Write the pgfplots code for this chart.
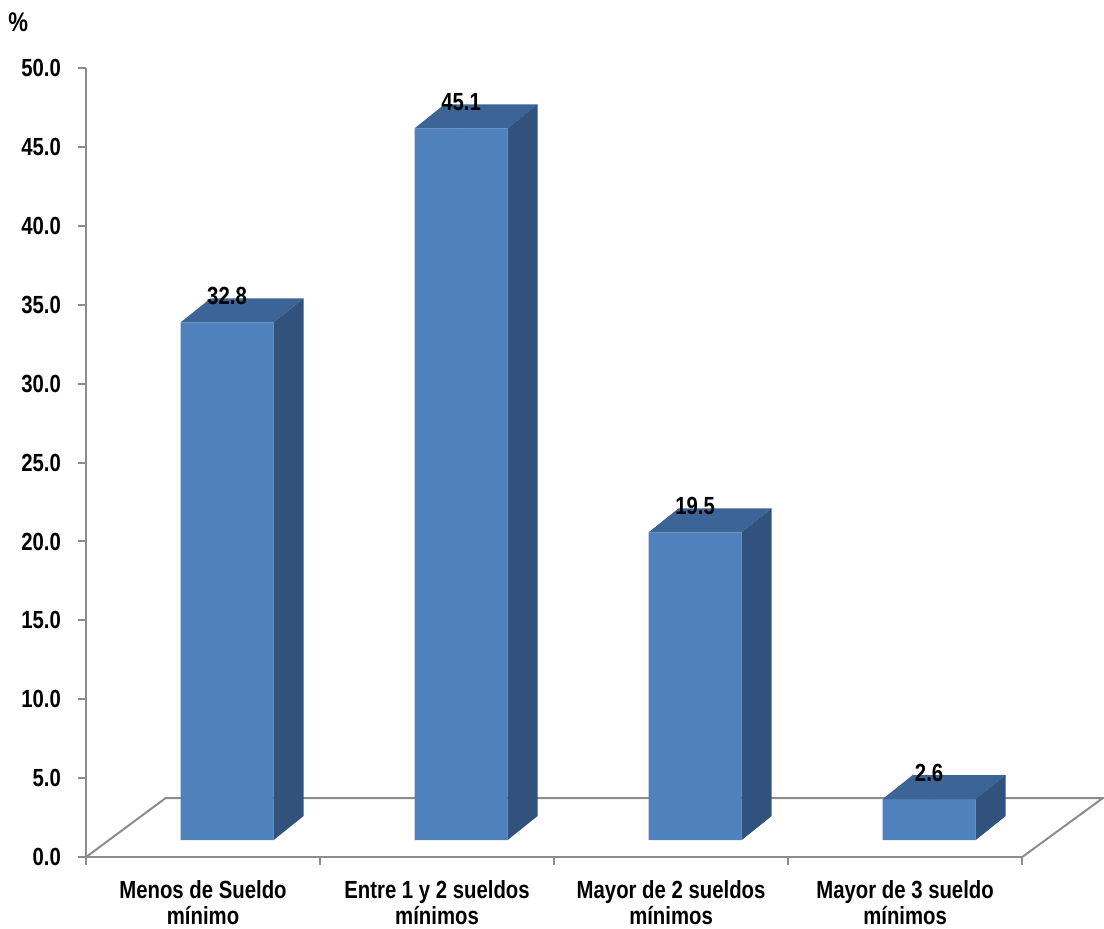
\documentclass[border=0pt]{standalone}
\usepackage{pgfplots}
\usepackage{pgfplotstable}
\pgfplotsset{compat=1.18}
\usepackage{fontspec}
\setmainfont{Liberation Sans}[FakeStretch=0.82]
\definecolor{frontcol}{HTML}{4F81BD}
\definecolor{topcol}{HTML}{3C6496}
\definecolor{sidecol}{HTML}{30527C}
\definecolor{axgray}{HTML}{8C8C8C}
\pgfplotstableread{
x v
0.5 32.8
1.5 45.1
2.5 19.5
3.5 2.6
}\datatable
\newcommand{\lblfont}{\fontsize{12.4}{13}\selectfont\bfseries}
\begin{document}
\begin{tikzpicture}
\begin{axis}[
  name=main, at={(0,0)}, anchor=origin,
  x=117pt, y=7.89pt, xmin=0, xmax=4, ymin=0, ymax=50,
  enlargelimits=false, clip=false,
  axis lines*=left,
  axis line style={draw=axgray, line width=1pt},
  ytick={0,5,...,50},
  xtick={0,1,2,3,4},
  xticklabels={{Menos de Sueldo\\mínimo},{Entre 1 y 2 sueldos\\mínimos},{Mayor de 2 sueldos\\mínimos},{Mayor de 3 sueldo\\mínimos},{}},
  xticklabel style={xshift=58.5pt, align=center, font=\lblfont, yshift=-4pt},
  yticklabel style={font=\lblfont, xshift=-5pt},
  tick style={draw=axgray, line width=1pt},
  tick align=outside, tick pos=left,
  major tick length=4pt,
  /pgf/number format/.cd, fixed, fixed zerofill, precision=1, assume math mode=true,
]
\draw[axgray, line width=1pt] (axis cs:0,0) -- (axis cs:0.34,3.74) -- (axis cs:4.345,3.74) -- (axis cs:4,0);
\node[font=\fontsize{13.5}{14}\selectfont\bfseries] at (axis cs:-0.29,52.9) {\%};
\coordinate (bbsw) at (axis cs:-0.3675,-4.5);
\coordinate (bbne) at (axis cs:4.35,54.31);
\end{axis}
\begin{axis}[
  at={(12pt,8.5pt)}, anchor=origin,
  x=117pt, y=7.89pt, xmin=0, xmax=4, ymin=0, ymax=50,
  enlargelimits=false, clip=false, hide axis,
  /pgf/number format/.cd, fixed, fixed zerofill, precision=1, assume math mode=true,
]
\addplot[ybar, bar width=46.5pt, fill=frontcol, draw=none] table[x=x, y=v] {\datatable};
\addplot[scatter, only marks, mark=*, mark size=0pt,
  visualization depends on={\thisrow{v} \as \val},
  scatter/@pre marker code/.code={%
    \pgfmathsetmacro\hh{-\val*7.89}%
    \pgfmathsetmacro\hb{12-\val*7.89}%
    \path[fill=topcol, draw=none] (-23.25pt,0pt) -- (23.25pt,0pt) -- (38.25pt,12pt) -- (-8.25pt,12pt) -- cycle;
    \path[fill=sidecol, draw=none] (23.25pt,0pt) -- (38.25pt,12pt) -- (38.25pt,\hb pt) -- (23.25pt,\hh pt) -- cycle;
  },
  scatter/@post marker code/.code={},
] table[x=x, y=v] {\datatable};
\addplot[only marks, mark=*, mark size=0pt, mark options={draw=none, fill=none},
  nodes near coords,
  nodes near coords style={anchor=center, yshift=13pt, font=\lblfont, text=black},
] table[x=x, y=v] {\datatable};
\end{axis}
\pgfresetboundingbox
\path (bbsw) rectangle (bbne);
\end{tikzpicture}
\end{document}
